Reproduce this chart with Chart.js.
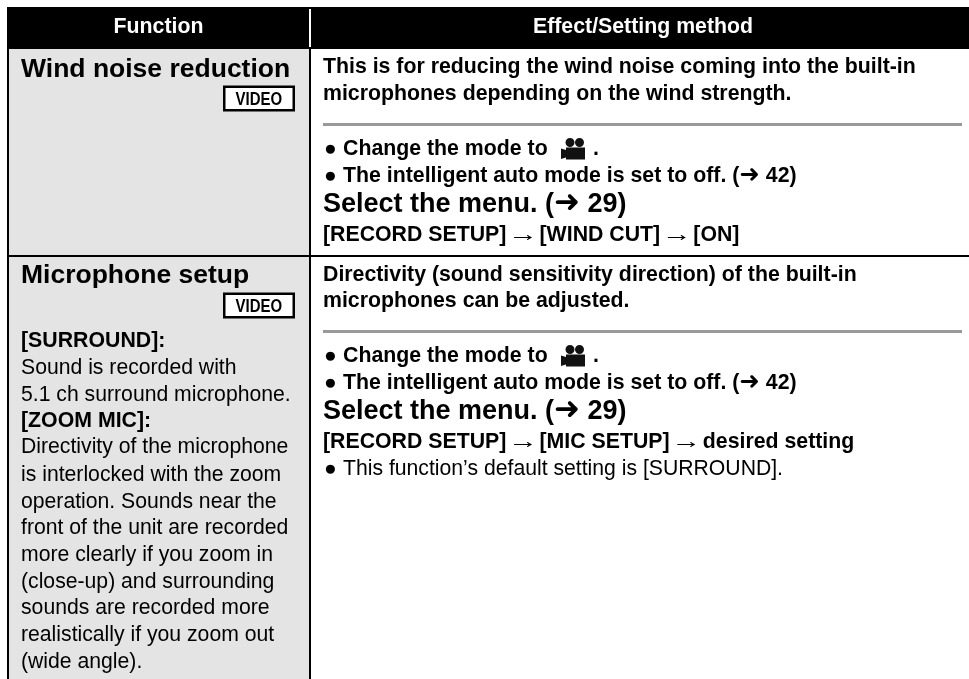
<!DOCTYPE html>
<html>
<head>
<meta charset="utf-8">
<title>Function table</title>
<script src="https://cdn.jsdelivr.net/npm/chart.js@4/dist/chart.umd.min.js"></script>
<style>
    html, body { margin: 0; padding: 0; background: #fff; }
    canvas { display: block; }
</style>
</head>
<body>
<canvas id="tableChart" width="969" height="679"></canvas>
<script>
// Table content
const headers = ['Function', 'Effect/Setting method'];
const rowTitles = ['Wind noise reduction', 'Microphone setup'];
const badgeLabel = 'VIDEO';
const windIntro = [
    'This is for reducing the wind noise coming into the built-in',
    'microphones depending on the wind strength.'
];
const micIntro = [
    'Directivity (sound sensitivity direction) of the built-in',
    'microphones can be adjusted.'
];
const modeSteps = ['Change the mode to', 'The intelligent auto mode is set to off. (➜ 42)'];
const selectLine = 'Select the menu. (➜ 29)';
const windPath = '[RECORD SETUP] → [WIND CUT] → [ON]';
const micPath = '[RECORD SETUP] → [MIC SETUP] → desired setting';
const micNote = 'This function’s default setting is [SURROUND].';
const surroundHead = '[SURROUND]:';
const surroundText = ['Sound is recorded with', '5.1 ch surround microphone.'];
const zoomHead = '[ZOOM MIC]:';
const zoomText = [
    'Directivity of the microphone',
    'is interlocked with the zoom',
    'operation. Sounds near the',
    'front of the unit are recorded',
    'more clearly if you zoom in',
    '(close-up) and surrounding',
    'sounds are recorded more',
    'realistically if you zoom out',
    '(wide angle).'
];

const FONT = '"Liberation Sans", Arial, sans-serif';
const styles = {
    header: `bold 21.3px ${FONT}`,
    title: `bold 26.5px ${FONT}`,
    body: `bold 21.3px ${FONT}`,
    select: `bold 27px ${FONT}`,
    plain: `21.2px ${FONT}`
};

const tablePlugin = {
    id: 'tablePlugin',
    beforeDatasetsDraw(chart) {
        const ctx = chart.ctx;
        const px = v => chart.scales.x.getPixelForValue(v);
        const py = v => chart.scales.y.getPixelForValue(v);

        function rect(x0, y0, x1, y1, color) {
            ctx.fillStyle = color;
            ctx.fillRect(px(x0), py(y0), px(x1) - px(x0), py(y1) - py(y0));
        }

        // Text with arrows: the arrows come from other fonts
        function text(str, x, y, font, color) {
            ctx.fillStyle = color || '#000';
            ctx.textBaseline = 'alphabetic';
            ctx.textAlign = 'left';
            let cx = px(x);
            str.split(/([→➜])/).forEach(part => {
                if (!part) return;
                const size = parseFloat(font.match(/([\d.]+)px/)[1]);
                if (part === '→') {
                    // thin arrow is wider in the original than in this font
                    ctx.font = `${size}px "Liberation Sans", sans-serif`;
                    const w = ctx.measureText(part).width;
                    ctx.save();
                    ctx.translate(cx + w / 2, py(y));
                    ctx.scale(1.4, 1);
                    ctx.fillText(part, -w / 2, 0);
                    ctx.restore();
                    cx += w;
                    return;
                }
                if (part === '➜') ctx.font = `bold ${size * 1.15}px "DejaVu Sans", sans-serif`;
                else ctx.font = font;
                ctx.fillText(part, cx, py(y));
                cx += ctx.measureText(part).width;
            });
            return cx;
        }

        function centered(str, x, y, font, color) {
            ctx.font = font;
            text(str, x - ctx.measureText(str).width / 2, y, font, color);
        }

        function badge(y) {
            rect(223, y, 295, y + 26, '#000');
            rect(225.5, y + 2.5, 292.5, y + 23.5, '#fff');
            ctx.save();
            ctx.translate(px(235.5), py(y + 19.5));
            ctx.scale(0.81, 1);
            ctx.font = `bold 18.5px "Liberation Sans", sans-serif`;
            ctx.fillStyle = '#000';
            ctx.fillText(badgeLabel, 0, 0);
            ctx.restore();
        }

        function camera(y) {
            ctx.fillStyle = '#111';
            ctx.beginPath();
            ctx.arc(px(570), py(y + 5), 4.5, 0, Math.PI * 2);
            ctx.arc(px(579.5), py(y + 5), 4.5, 0, Math.PI * 2);
            ctx.fill();
            ctx.fillRect(px(566), py(y + 10), 19, 12);
            ctx.beginPath();
            ctx.moveTo(px(561), py(y + 11));
            ctx.lineTo(px(566), py(y + 12.5));
            ctx.lineTo(px(566), py(y + 20));
            ctx.lineTo(px(561), py(y + 21.5));
            ctx.closePath();
            ctx.fill();
        }

        function steps(mode1, mode2, select, path) {
            text('●', 324, mode1, styles.plain);
            text(modeSteps[0], 343, mode1, styles.body);
            camera(mode1 - 17.5);
            text('.', 593, mode1, styles.body);
            text('●', 324, mode2, styles.plain);
            text(modeSteps[1], 343, mode2, styles.body);
            text(select, 323, mode2 + 29.7, styles.select);
            text(path, 323, mode2 + 59, styles.body);
        }

        // Cell backgrounds
        rect(9, 48, 309, 679, '#e4e4e4');
        // Header band and borders
        rect(7, 7, 969, 49, '#000');
        rect(309, 9, 311, 47, '#fff');
        rect(7, 7, 9, 679, '#000');
        rect(309, 49, 311, 679, '#000');
        rect(9, 255, 969, 257, '#000');

        centered(headers[0], 158.5, 33, styles.header, '#fff');
        centered(headers[1], 643, 33, styles.header, '#fff');

        // Left column
        text(rowTitles[0], 21, 77, styles.title);
        badge(85.5);
        text(rowTitles[1], 21, 283, styles.title);
        badge(292.5);
        text(surroundHead, 21, 347, styles.body);
        surroundText.forEach((line, i) => text(line, 21, [374, 401][i], styles.plain));
        text(zoomHead, 21, 427, styles.body);
        zoomText.forEach((line, i) => text(line, 21, [453, 481, 508, 534, 561, 588, 614, 641, 668][i], styles.plain));

        // Right column, first row
        windIntro.forEach((line, i) => text(line, 323, 73 + i * 27, styles.body));
        rect(323, 123, 962, 126, '#999');
        steps(155, 182, selectLine, windPath);

        // Right column, second row
        micIntro.forEach((line, i) => text(line, 323, 281 + i * 26, styles.body));
        rect(323, 330, 962, 333, '#999');
        steps(362, 389, selectLine, micPath);
        text('●', 324, 475, styles.plain);
        text(micNote, 343, 475, styles.plain);
    }
};

new Chart(document.getElementById('tableChart'), {
    type: 'scatter',
    data: { datasets: [] },
    options: {
        responsive: false,
        animation: false,
        layout: { padding: 0 },
        plugins: { legend: { display: false }, tooltip: { enabled: false } },
        scales: {
            x: { type: 'linear', display: false, min: 0, max: 969 },
            y: { type: 'linear', display: false, min: 0, max: 679, reverse: true }
        }
    },
    plugins: [tablePlugin]
});
</script>
</body>
</html>
